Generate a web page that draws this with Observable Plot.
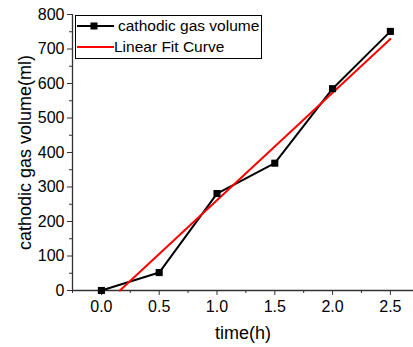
<!DOCTYPE html>
<html>
<head>
<meta charset="utf-8">
<script src="https://cdn.jsdelivr.net/npm/d3@7"></script>
<script src="https://cdn.jsdelivr.net/npm/@observablehq/plot@0.6"></script>
<style>
  html, body { margin: 0; padding: 0; background: #fff; }
  #wrap { position: relative; width: 413px; height: 347px; font-family: "Liberation Sans", Arial, sans-serif; }
  g[aria-label="x-axis label"] text, g[aria-label="y-axis label"] text { font-size: 18px; }
  #legend { position: absolute; left: 75px; top: 15px; width: 187px; height: 44px; border: 1px solid #000; background: #fff; box-sizing: border-box; }
  #legend .row { position: absolute; left: 0; height: 20px; display: flex; align-items: center; font-size: 15.5px; color: #000; white-space: nowrap; }
</style>
</head>
<body>
<div id="wrap"></div>
<script>
// Data
const timeH = [0, 0.5, 1.0, 1.5, 2.0, 2.5];
const gasVolume = [0, 52, 281, 369, 585, 751];
// Linear fit curve endpoints
const fitX = [0.16, 2.5];
const fitY = [0, 729];
const xTicks = [0, 0.5, 1.0, 1.5, 2.0, 2.5];
const xMinor = [-0.25, 0.25, 0.75, 1.25, 1.75, 2.25];
const yTicks = [0, 100, 200, 300, 400, 500, 600, 700, 800];
const yMinor = [50, 150, 250, 350, 450, 550, 650, 750];
const seriesName = "cathodic gas volume";
const fitName = "Linear Fit Curve";
const xLabel = "time(h)";
const yLabel = "cathodic gas volume(ml)";

const pts = timeH.map((t, i) => ({t, v: gasVolume[i]}));
const fit = fitX.map((t, i) => ({t, v: fitY[i]}));
const axisColor = "#333";

const chart = Plot.plot({
  width: 413,
  height: 347,
  marginLeft: 72,
  marginRight: 0,
  marginTop: 14,
  marginBottom: 57,
  style: { fontFamily: "'Liberation Sans', Arial, sans-serif", fontSize: "16px", color: "#000", background: "#fff", overflow: "visible" },
  x: { domain: [-0.25, 2.7] },
  y: { domain: [0, 800] },
  marks: [
    Plot.axisX({ ticks: xTicks, tickFormat: d3.format(".1f"), tickSize: 5, tickPadding: 5, stroke: axisColor, fill: "#000", label: xLabel, labelAnchor: "center", labelOffset: 48, labelArrow: "none" }),
    Plot.axisX({ ticks: xMinor, tickSize: 3, stroke: axisColor, text: null, label: null }),
    Plot.axisY({ ticks: yTicks, tickSize: 5, tickPadding: 3, stroke: axisColor, fill: "#000", label: yLabel, labelAnchor: "center", labelOffset: 54, labelArrow: "none" }),
    Plot.axisY({ ticks: yMinor, tickSize: 3, stroke: axisColor, text: null, label: null }),
    Plot.ruleY([0], { stroke: axisColor, strokeWidth: 1.3 }),
    Plot.ruleX([-0.25], { stroke: axisColor, strokeWidth: 1.3 }),
    Plot.line(pts, { x: "t", y: "v", stroke: "#000", strokeWidth: 2 }),
    Plot.line(fit, { x: "t", y: "v", stroke: "#ff0000", strokeWidth: 2 }),
    Plot.dot(pts, { x: "t", y: "v", symbol: "square", r: 4, fill: "#000", stroke: "none" })
  ]
});

const wrap = document.getElementById("wrap");
wrap.appendChild(chart);

// Legend overlay
const legend = document.createElement("div");
legend.id = "legend";
legend.innerHTML =
  `<div class="row" style="top:0px">
     <svg width="42" height="20" style="flex:none"><line x1="1" y1="10" x2="38" y2="10" stroke="#000" stroke-width="2"/><rect x="14.5" y="6.5" width="7" height="7" fill="#000"/></svg>
     <span>${seriesName}</span></div>
   <div class="row" style="top:21px">
     <svg width="38" height="20" style="flex:none"><line x1="1" y1="10" x2="38" y2="10" stroke="#ff0000" stroke-width="2"/></svg>
     <span>${fitName}</span></div>`;
wrap.appendChild(legend);
</script>
</body>
</html>
